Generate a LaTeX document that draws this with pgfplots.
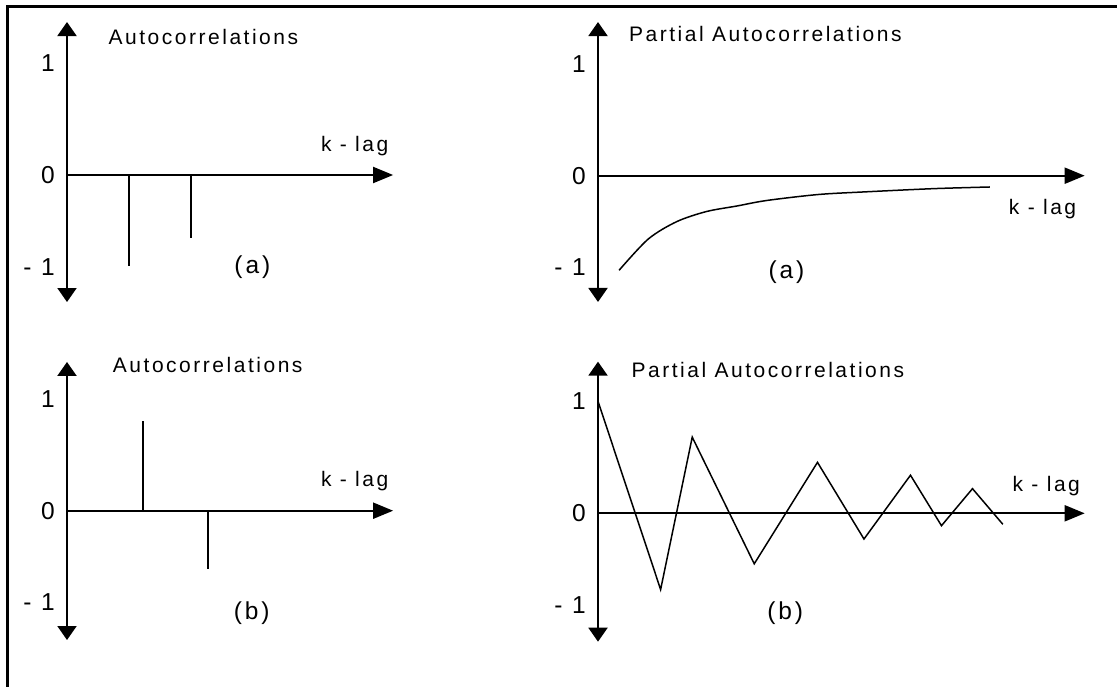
\documentclass[border=0pt]{standalone}
\usepackage{pgfplots}
\pgfplotsset{compat=1.18}
\usetikzlibrary{arrows.meta}
\usepackage{fontspec}
\setmainfont{Liberation Sans}
\newfontfamily\lab[LetterSpace=12]{Liberation Sans}
\newcommand\tfont{\lab\fontsize{21}{24}\selectfont}
\newcommand\bfont{\lab\fontsize{24.5}{28}\selectfont}

% Shared look of the four correlogram sketches: axes through the origin,
% arrowheads, no tick marks, and a compressed negative half of the y scale.
\pgfplotsset{acf/.style={
  x=62pt, y=112pt, anchor=origin,
  axis lines=middle, clip=false,
  xmin=0,
  xtick=\empty, ytick={-1,0,1}, yticklabels={- 1,0,1},
  hide obscured y ticks=false,
  major tick length=0pt,
  y coord trafo/.code={\pgfmathparse{ifthenelse(##1<0,0.82*(##1),##1)}},
  y coord inv trafo/.code={\pgfmathparse{ifthenelse(##1<0,(##1)/0.82,##1)}},
  axis line style={line width=2pt},
  x axis line style={-{Triangle[length=20pt,width=16pt]}},
  y axis line style={{Triangle[length=14pt,width=19pt]}-{Triangle[length=14pt,width=19pt]}},
  yticklabel style={font=\bfont, anchor=east, inner sep=0pt, xshift=-12pt},
  every node/.append style={inner sep=0pt},
}}

\begin{document}
\begin{tikzpicture}
\path[use as bounding box] (0,0) rectangle (1117pt,-687pt);
\draw[line width=3pt] (7.5pt,-690pt) -- (7.5pt,-6.5pt) -- (1120pt,-6.5pt);

% ACF (a): cut off after lag 2
\begin{axis}[acf, at={(67pt,-175pt)}, xmax=5.26, ymin=-1.383, ymax=1.366]
  \addplot[ycomb, line width=2pt, no marks] coordinates {(1,-0.99) (2,-0.69)};
  \node[font=\tfont, anchor=base] at (axis cs:2.20,1.167) {Autocorrelations};
  \node[font=\tfont, anchor=base] at (axis cs:4.64,0.208) {k - lag};
  \node[font=\bfont, anchor=base] at (axis cs:2.99,-1.07) {(a)};
\end{axis}

% PACF (a): slow decay towards zero from below
\begin{axis}[acf, at={(598pt,-175.7pt)}, xmax=7.85, ymin=-1.375, ymax=1.372]
  \addplot[smooth, line width=1.5pt, no marks] coordinates {
    (0.34,-1.03) (0.81,-0.69) (1.27,-0.50) (1.75,-0.39) (2.24,-0.33)
    (2.72,-0.27) (3.55,-0.205) (4.28,-0.177) (5.41,-0.141) (6.32,-0.123)};
  \node[font=\tfont, anchor=base] at (axis cs:2.70,1.196) {Partial Autocorrelations};
  \node[font=\tfont, anchor=base] at (axis cs:7.17,-0.427) {k - lag};
  \node[font=\bfont, anchor=base] at (axis cs:3.04,-1.115) {(a)};
\end{axis}

% ACF (b)
\begin{axis}[acf, at={(67pt,-510.7pt)}, xmax=5.26, ymin=-1.408, ymax=1.328]
  \addplot[ycomb, line width=2pt, no marks] coordinates {(1.23,0.80) (2.27,-0.64)};
  \node[font=\tfont, anchor=base] at (axis cs:2.27,1.235) {Autocorrelations};
  \node[font=\tfont, anchor=base] at (axis cs:4.64,0.214) {k - lag};
  \node[font=\bfont, anchor=base] at (axis cs:2.98,-1.18) {(b)};
\end{axis}

% PACF (b): damped oscillation
\begin{axis}[acf, at={(598pt,-513.3pt)}, xmax=7.85, ymin=-1.398, ymax=1.354]
  \addplot[sharp plot, line width=1.5pt, no marks] coordinates {
    (0,1.0) (1.01,-0.83) (1.52,0.68) (2.52,-0.55) (3.54,0.455)
    (4.29,-0.28) (5.04,0.34) (5.54,-0.135) (6.04,0.22) (6.53,-0.12)};
  \node[font=\tfont, anchor=base] at (axis cs:2.74,1.214) {Partial Autocorrelations};
  \node[font=\tfont, anchor=base] at (axis cs:7.23,0.193) {k - lag};
  \node[font=\bfont, anchor=base] at (axis cs:3.02,-1.16) {(b)};
\end{axis}
\end{tikzpicture}
\end{document}
